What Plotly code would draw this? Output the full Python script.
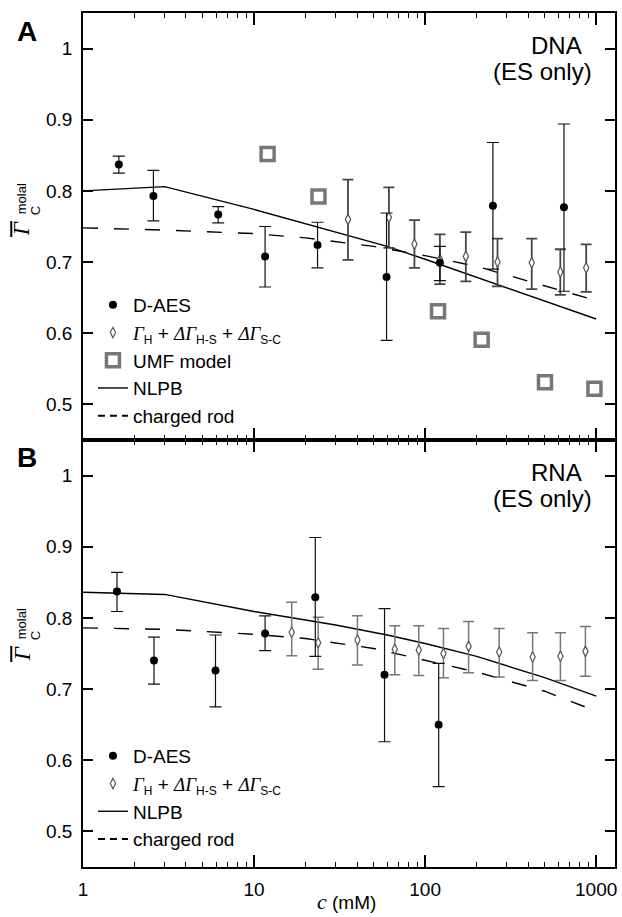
import plotly.graph_objects as go
from plotly.subplots import make_subplots

# ---------------- data ----------------
# Panel A (DNA)
daes_A_c = [1.62, 2.58, 6.17, 11.6, 23.5, 59.5, 122, 249, 648]
daes_A_v = [0.837, 0.793, 0.767, 0.708, 0.724, 0.679, 0.699, 0.779, 0.777]
daes_A_hi = [0.849, 0.829, 0.778, 0.750, 0.756, 0.769, 0.722, 0.868, 0.894]
daes_A_lo = [0.825, 0.758, 0.755, 0.665, 0.692, 0.590, 0.674, 0.690, 0.659]

gam_A_c = [35.4, 61.4, 86.6, 122, 173, 265, 420, 617, 874]
gam_A_v = [0.760, 0.763, 0.725, 0.704, 0.708, 0.700, 0.699, 0.686, 0.692]
gam_A_hi = [0.816, 0.805, 0.759, 0.739, 0.742, 0.733, 0.733, 0.718, 0.725]
gam_A_lo = [0.703, 0.720, 0.692, 0.669, 0.673, 0.666, 0.662, 0.654, 0.658]

umf_A_c = [12.0, 23.8, 119, 214, 502, 977]
umf_A_v = [0.852, 0.792, 0.631, 0.591, 0.531, 0.522]

nlpb_A_c = [1, 3, 10, 30, 60, 100, 200, 500, 1000]
nlpb_A_v = [0.800, 0.806, 0.774, 0.742, 0.722, 0.704, 0.679, 0.645, 0.620]

rod_A_c = [1, 3, 10, 20, 50, 100, 200, 500, 1000]
rod_A_v = [0.748, 0.745, 0.740, 0.734, 0.722, 0.709, 0.694, 0.667, 0.646]

# Panel B (RNA)
daes_B_c = [1.58, 2.60, 5.95, 11.6, 22.8, 57.9, 120]
daes_B_v = [0.837, 0.740, 0.726, 0.778, 0.829, 0.720, 0.650]
daes_B_hi = [0.864, 0.773, 0.776, 0.803, 0.913, 0.813, 0.736]
daes_B_lo = [0.809, 0.707, 0.675, 0.754, 0.746, 0.626, 0.563]

gam_B_c = [16.6, 23.7, 40.2, 66.5, 91.8, 128, 179.5, 271, 425, 618, 865]
gam_B_v = [0.780, 0.765, 0.769, 0.756, 0.755, 0.750, 0.760, 0.752, 0.745, 0.746, 0.753]
gam_B_hi = [0.822, 0.801, 0.803, 0.789, 0.789, 0.785, 0.795, 0.785, 0.779, 0.779, 0.788]
gam_B_lo = [0.747, 0.728, 0.734, 0.720, 0.719, 0.716, 0.723, 0.717, 0.712, 0.712, 0.718]

nlpb_B_c = [1, 3, 10, 30, 60, 100, 200, 500, 1000]
nlpb_B_v = [0.836, 0.833, 0.809, 0.790, 0.776, 0.764, 0.746, 0.716, 0.690]

rod_B_c = [1, 3, 10, 20, 50, 100, 200, 500, 1000]
rod_B_v = [0.786, 0.784, 0.777, 0.771, 0.757, 0.741, 0.724, 0.697, 0.669]

x_tickvals = [1, 10, 100, 1000]
x_ticktext = ["1", "10", "100", "1000"]
x_minor = [2, 3, 4, 5, 6, 7, 8, 9, 20, 30, 40, 50, 60, 70, 80, 90,
           200, 300, 400, 500, 600, 700, 800, 900]
y_tickvals = [0.5, 0.6, 0.7, 0.8, 0.9, 1.0]
y_ticktext = ["0.5", "0.6", "0.7", "0.8", "0.9", "1"]

GAMMA_LABEL = ("<span style='font-family:Liberation Serif'><i>Γ</i></span>"
               "<sub><span style='font-size:12px'>H</span></sub> + "
               "<span style='font-family:Liberation Serif'><i>ΔΓ</i></span>"
               "<sub><span style='font-size:12px'>H-S</span></sub> + "
               "<span style='font-family:Liberation Serif'><i>ΔΓ</i></span>"
               "<sub><span style='font-size:12px'>S-C</span></sub>")

# ---------------- layout geometry ----------------
W, H = 622, 917
ML, MR, MT, MB = 83, 5, 13, 50


def pxx(x):
    return (x - ML) / (W - ML - MR)


def pxy(y):
    return (H - MB - y) / (H - MT - MB)


SANS = "Liberation Sans"
SERIF = "Liberation Serif"

fig = make_subplots(rows=2, cols=1, shared_xaxes=True, vertical_spacing=0)


def errs(v, hi, lo):
    return ([h - a for a, h in zip(v, hi)], [a - l for a, l in zip(v, lo)])


def add_panel(row, leg, daes, gam, nlpb, rod, umf=None, gam_err_col="#444", gam_err_w=1.8):
    # lines
    fig.add_trace(go.Scatter(x=nlpb[0], y=nlpb[1], mode="lines", name="NLPB",
                             line=dict(color="black", width=1.4), legend=leg,
                             legendrank=4), row=row, col=1)
    fig.add_trace(go.Scatter(x=rod[0], y=rod[1], mode="lines", name="charged rod",
                             line=dict(color="black", width=1.4, dash="15px,16px"),
                             legend=leg, showlegend=False), row=row, col=1)
    fig.add_trace(go.Scatter(x=[None], y=[None], mode="lines", name="charged rod",
                             line=dict(color="black", width=2, dash="7px,5px"),
                             legend=leg, legendrank=5), row=row, col=1)
    # diamonds
    ep, em = errs(*gam[1:])
    fig.add_trace(go.Scatter(x=gam[0], y=gam[1], mode="markers", name=GAMMA_LABEL,
                             marker=dict(symbol="diamond-tall", size=7.5, color="white",
                                         line=dict(color="#555", width=1.2)),
                             error_y=dict(type="data", symmetric=False, array=ep, arrayminus=em,
                                          color=gam_err_col, thickness=gam_err_w, width=5.5),
                             legend=leg, legendrank=2), row=row, col=1)
    # D-AES
    ep, em = errs(*daes[1:])
    fig.add_trace(go.Scatter(x=daes[0], y=daes[1], mode="markers", name="D-AES",
                             marker=dict(symbol="circle", size=8, color="black"),
                             error_y=dict(type="data", symmetric=False, array=ep, arrayminus=em,
                                          color="#111", thickness=1.2, width=6),
                             legend=leg, legendrank=1), row=row, col=1)
    if umf is not None:
        fig.add_trace(go.Scatter(x=umf[0], y=umf[1], mode="markers", name="UMF model",
                                 marker=dict(symbol="square-open", size=13, color="#777",
                                             line=dict(color="#777", width=3.5)),
                                 legend=leg, legendrank=3), row=row, col=1)


add_panel(1, "legend",
          (daes_A_c, daes_A_v, daes_A_hi, daes_A_lo),
          (gam_A_c, gam_A_v, gam_A_hi, gam_A_lo),
          (nlpb_A_c, nlpb_A_v), (rod_A_c, rod_A_v), (umf_A_c, umf_A_v))
add_panel(2, "legend2",
          (daes_B_c, daes_B_v, daes_B_hi, daes_B_lo),
          (gam_B_c, gam_B_v, gam_B_hi, gam_B_lo),
          (nlpb_B_c, nlpb_B_v), (rod_B_c, rod_B_v), None,
          gam_err_col="#777", gam_err_w=1.5)

axis_common = dict(showline=True, linecolor="black", linewidth=1.6, mirror="allticks",
                   ticks="inside", tickcolor="black", tickwidth=1.5,
                   showgrid=False, zeroline=False,
                   tickfont=dict(family=SANS, size=19, color="black"))

xcommon = dict(axis_common, type="log", range=[0, 3.11], tickmode="array",
               tickvals=x_tickvals, ticktext=x_ticktext, ticklen=12,
               minor=dict(tickmode="array", tickvals=x_minor, ticks="inside",
                          ticklen=5, tickwidth=1.2, tickcolor="black", showgrid=False))
fig.update_xaxes(**xcommon)
fig.update_xaxes(showticklabels=False, row=1, col=1)
fig.update_xaxes(showticklabels=True, ticklabelstandoff=4, row=2, col=1)

fig.update_yaxes(**axis_common, range=[0.45, 1.05], tickmode="array",
                 tickvals=y_tickvals, ticktext=y_ticktext, ticklen=10,
                 ticklabelstandoff=5)

legend_common = dict(xanchor="left", yanchor="top", bgcolor="rgba(0,0,0,0)",
                     font=dict(family=SANS, size=19, color="black"),
                     tracegroupgap=0, itemwidth=30)
fig.update_layout(
    width=W, height=H,
    margin=dict(l=ML, r=MR, t=MT, b=MB),
    paper_bgcolor="white", plot_bgcolor="white",
    showlegend=True,
    legend=dict(legend_common, x=pxx(93), y=pxy(286)),
    legend2=dict(legend_common, x=pxx(93), y=pxy(737)),
)

ann = []


def txt(text, x, y, size, family=SANS, xanchor="center", yanchor="middle", angle=0):
    ann.append(dict(text=text, x=pxx(x), y=pxy(y), xref="paper", yref="paper",
                    showarrow=False, xanchor=xanchor, yanchor=yanchor, textangle=angle,
                    font=dict(family=family, size=size, color="black")))


txt("<b>A</b>", 27, 31, 28)
txt("<b>B</b>", 27, 457, 28)
txt("DNA", 586, 45, 24, xanchor="right")
txt("(ES only)", 596, 72, 24, xanchor="right")
txt("RNA", 586, 472, 24, xanchor="right")
txt("(ES only)", 596, 499, 24, xanchor="right")
txt("<span style='font-family:Liberation Serif;font-size:22px'><i>c</i></span> (mM)",
    347, 916, 19, yanchor="bottom")

# y-axis titles (rotated)
for yoff in (0, 425):
    txt("<i>Γ</i>", 22, 229 + yoff, 23, family=SERIF, angle=-90)
    txt("C", 35, 211 + yoff, 13, angle=-90)
    txt("molal", 21, 199 + yoff, 13, angle=-90)

fig.update_layout(annotations=ann)

# overbar above Γ
shapes = []
for yoff in (0, 425):
    shapes.append(dict(type="line", xref="paper", yref="paper",
                       x0=pxx(11), x1=pxx(11), y0=pxy(221 + yoff), y1=pxy(237 + yoff),
                       line=dict(color="black", width=2)))
fig.update_layout(shapes=shapes)

fig.write_html("out.html", config={"displayModeBar": False},
               post_script="document.body.style.margin='0px';document.body.style.padding='0px';"
                           "document.documentElement.style.overflow='hidden';")
